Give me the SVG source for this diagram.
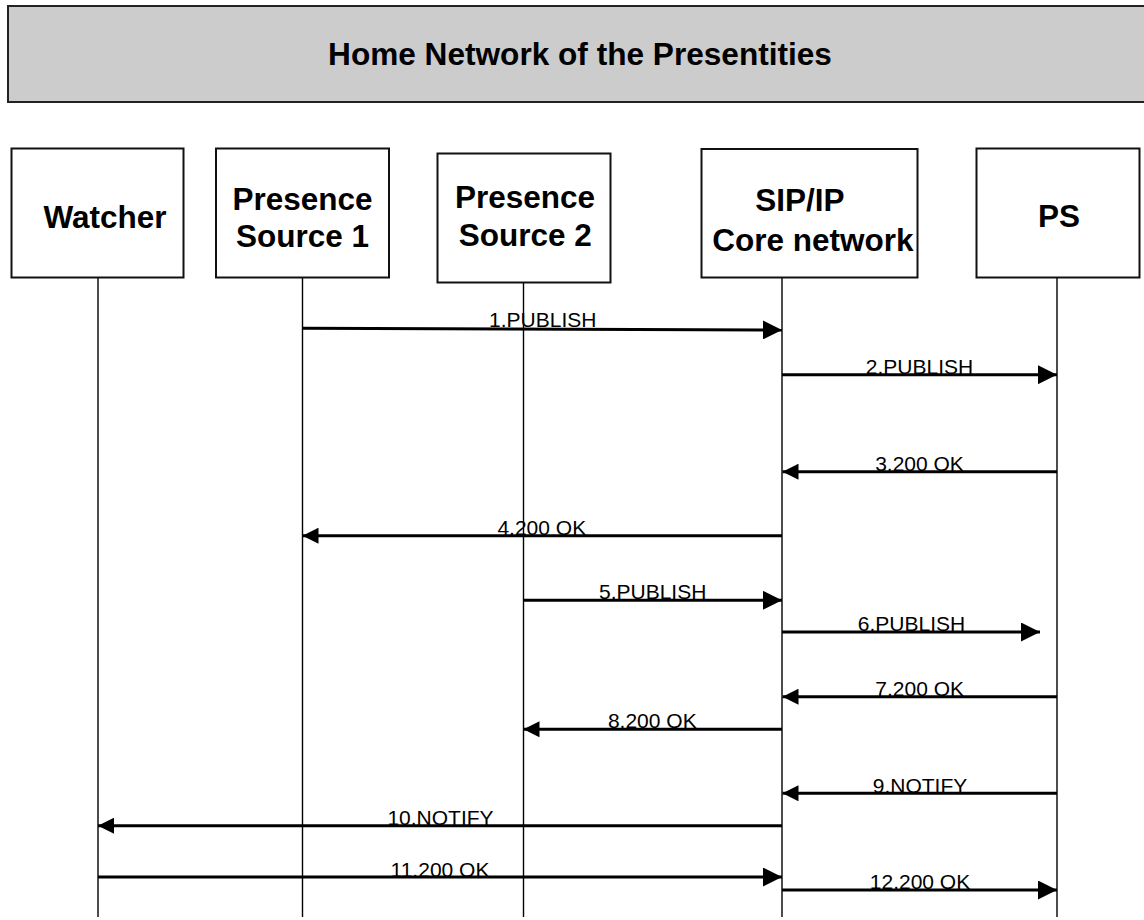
<svg xmlns="http://www.w3.org/2000/svg" width="1144" height="920" viewBox="0 0 1144 920">
<style>
.box{fill:#fff;stroke:#111;stroke-width:2}
.hdr{fill:#cccccc;stroke:#222;stroke-width:2}
.nt{font-family:"Liberation Sans",Arial,sans-serif;font-weight:bold;font-size:31.5px;fill:#000;text-anchor:middle}
.life{stroke:#000;stroke-width:1.4;fill:none}
.msg{stroke:#000;stroke-width:3;fill:none}
.r{marker-end:url(#hr)}
.l{marker-end:url(#hl)}
.lbl{font-family:"Liberation Sans",Arial,sans-serif;font-size:21px;fill:#000;text-anchor:middle}
</style>
<defs>
<marker id="hr" markerUnits="userSpaceOnUse" markerWidth="19" markerHeight="19" refX="19" refY="9.5" orient="auto" viewBox="0 0 19 19"><path d="M0,0 L19,9.5 L0,19 Z" fill="#000"/></marker>
<marker id="hl" markerUnits="userSpaceOnUse" markerWidth="16" markerHeight="16" refX="16" refY="8" orient="auto" viewBox="0 0 16 16"><path d="M0,0 L16,8 L0,16 Z" fill="#000"/></marker>
</defs>
<g id="header">
<rect class="hdr" x="8" y="6" width="1150" height="96"/>
<text x="580" y="65" font-family="Liberation Sans, Arial, sans-serif" font-weight="bold" font-size="31.6" text-anchor="middle" fill="#000">Home Network of the Presentities</text>
</g>
<g id="lifelines">
<line class="life" x1="98" y1="277" x2="98" y2="917"/>
<line class="life" x1="302.5" y1="277" x2="302.5" y2="917"/>
<line class="life" x1="523.5" y1="282" x2="523.5" y2="917"/>
<line class="life" x1="782" y1="277" x2="782" y2="917"/>
<line class="life" x1="1057" y1="277" x2="1057" y2="917"/>
</g>
<g id="node-watcher">
<rect class="box" x="11.5" y="148.5" width="172" height="129"/>
<text class="nt" x="105" y="228">Watcher</text>
</g>
<g id="node-ps1">
<rect class="box" x="216" y="148.5" width="173" height="129"/>
<text class="nt" x="302.6" y="210">Presence</text>
<text class="nt" x="302.6" y="247.3">Source 1</text>
</g>
<g id="node-ps2">
<rect class="box" x="437.5" y="153.5" width="173" height="129"/>
<text class="nt" x="525" y="208.3">Presence</text>
<text class="nt" x="525.3" y="246">Source 2</text>
</g>
<g id="node-sip">
<rect class="box" x="701.5" y="149" width="216" height="128.5"/>
<text class="nt" x="800" y="211">SIP/IP</text>
<text class="nt" x="813" y="251">Core network</text>
</g>
<g id="node-ps">
<rect class="box" x="976.5" y="148.5" width="163" height="129"/>
<text class="nt" x="1059" y="226.7">PS</text>
</g>
<g id="connectors">
<line class="msg r" x1="302.5" y1="328.3" x2="782" y2="330"/>
<line class="msg r" x1="782" y1="374.7" x2="1057" y2="374.7"/>
<line class="msg l" x1="1057" y1="471.7" x2="782.5" y2="471.7"/>
<line class="msg l" x1="782" y1="535.7" x2="302.5" y2="535.7"/>
<line class="msg r" x1="523.5" y1="600.3" x2="782" y2="600.3"/>
<line class="msg r" x1="782" y1="632" x2="1040" y2="632"/>
<line class="msg l" x1="1057" y1="696.7" x2="782.5" y2="696.7"/>
<line class="msg l" x1="782" y1="729.3" x2="523.5" y2="729.3"/>
<line class="msg l" x1="1057" y1="793.3" x2="782.5" y2="793.3"/>
<line class="msg l" x1="782" y1="825.7" x2="98" y2="825.7"/>
<line class="msg r" x1="98" y1="877" x2="782" y2="877"/>
<line class="msg r" x1="782" y1="890" x2="1057" y2="890"/>
<text class="lbl" x="542.8" y="326.5">1.PUBLISH</text>
<text class="lbl" x="919.5" y="373.5">2.PUBLISH</text>
<text class="lbl" x="919.5" y="470.5">3.200 OK</text>
<text class="lbl" x="541.8" y="535">4.200 OK</text>
<text class="lbl" x="652.7" y="599">5.PUBLISH</text>
<text class="lbl" x="911.5" y="630.7">6.PUBLISH</text>
<text class="lbl" x="919.7" y="696">7.200 OK</text>
<text class="lbl" x="652.3" y="728">8.200 OK</text>
<text class="lbl" x="920" y="792.5">9.NOTIFY</text>
<text class="lbl" x="440.5" y="825">10.NOTIFY</text>
<text class="lbl" x="440" y="876.5">11.200 OK</text>
<text class="lbl" x="920" y="889">12.200 OK</text>
</g>
</svg>
